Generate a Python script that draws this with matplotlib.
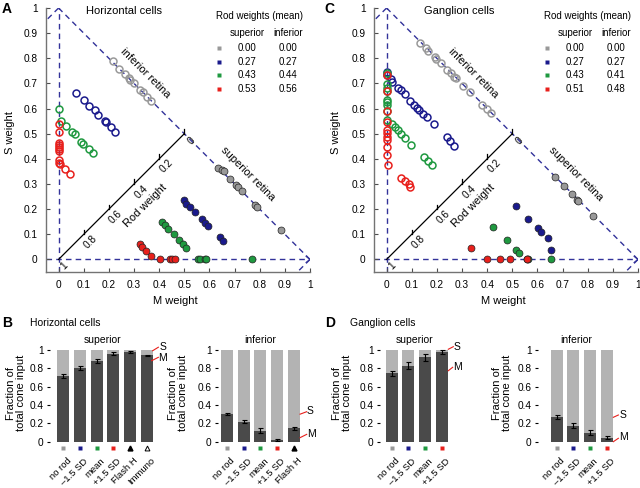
import matplotlib
matplotlib.use("Agg")
import matplotlib.pyplot as plt
import numpy as np

plt.rcParams['font.family'] = ['Liberation Sans', 'DejaVu Sans']

# ---------------- data: panel A (horizontal cells) ----------------
A_inf_gray_m = [0.216, 0.242, 0.263, 0.279, 0.286, 0.299, 0.325, 0.335, 0.352, 0.368]
A_inf_gray_s = [0.789, 0.758, 0.737, 0.721, 0.714, 0.701, 0.675, 0.665, 0.648, 0.632]
A_inf_blue_m = [0.071, 0.100, 0.122, 0.143, 0.156, 0.183, 0.190, 0.210, 0.226]
A_inf_blue_s = [0.660, 0.636, 0.612, 0.594, 0.576, 0.551, 0.545, 0.525, 0.506]
A_inf_green_m = [0.001, 0.008, 0.028, 0.052, 0.065, 0.091, 0.098, 0.120, 0.136]
A_inf_green_s = [0.598, 0.551, 0.530, 0.507, 0.497, 0.467, 0.461, 0.441, 0.425]
A_inf_red_m = [0, 0, 0, 0, 0, 0, 0, 0, 0.003, 0.007, 0.024, 0.044]
A_inf_red_s = [0.538, 0.505, 0.465, 0.457, 0.447, 0.438, 0.430, 0.394, 0.385, 0.378, 0.361, 0.341]

A_sup_gray_m = [0.636, 0.650, 0.656, 0.680, 0.706, 0.712, 0.729, 0.782, 0.791, 0.885]
A_sup_gray_s = [0.364, 0.355, 0.351, 0.319, 0.298, 0.290, 0.271, 0.218, 0.208, 0.116]
A_sup_blue_m = [0.497, 0.508, 0.524, 0.544, 0.570, 0.583, 0.596, 0.643, 0.654]
A_sup_blue_s = [0.235, 0.222, 0.208, 0.188, 0.162, 0.146, 0.133, 0.089, 0.073]
A_sup_green_m = [0.411, 0.422, 0.434, 0.458, 0.480, 0.495, 0.507, 0.554, 0.563, 0.581, 0.587, 0.771]
A_sup_green_s = [0.149, 0.135, 0.121, 0.102, 0.076, 0.062, 0.047, 0, 0, 0, 0, 0]
A_sup_red_m = [0.323, 0.332, 0.349, 0.369, 0.405, 0.442, 0.451, 0.462]
A_sup_red_s = [0.060, 0.049, 0.033, 0.015, 0, 0, 0, 0]

# ---------------- data: panel C (ganglion cells) ----------------
C_inf_gray_m = [0.133, 0.155, 0.165, 0.191, 0.198, 0.215, 0.241, 0.255, 0.268, 0.275, 0.304, 0.331, 0.381, 0.398, 0.414]
C_inf_gray_s = [0.862, 0.840, 0.830, 0.804, 0.797, 0.780, 0.754, 0.740, 0.727, 0.720, 0.691, 0.664, 0.614, 0.597, 0.581]
C_inf_blue_m = [0, 0, 0.016, 0.022, 0.046, 0.056, 0.072, 0.093, 0.109, 0.122, 0.129, 0.145, 0.162, 0.188, 0.239, 0.252, 0.268]
C_inf_blue_s = [0.745, 0.732, 0.716, 0.705, 0.681, 0.672, 0.659, 0.632, 0.616, 0.603, 0.595, 0.579, 0.566, 0.537, 0.486, 0.473, 0.453]
C_inf_green_m = [0, 0, 0, 0, 0, 0, 0, 0, 0.003, 0.020, 0.033, 0.046, 0.056, 0.073, 0.096, 0.149, 0.166, 0.182]
C_inf_green_s = [0.741, 0.699, 0.683, 0.669, 0.635, 0.625, 0.616, 0.592, 0.555, 0.537, 0.526, 0.513, 0.499, 0.484, 0.457, 0.406, 0.390, 0.376]
C_inf_red_m = [0, 0, 0, 0, 0, 0, 0, 0, 0, 0, 0.006, 0.056, 0.073, 0.089, 0.092]
C_inf_red_s = [0.733, 0.669, 0.592, 0.545, 0.513, 0.501, 0.486, 0.475, 0.448, 0.417, 0.376, 0.323, 0.310, 0.300, 0.290]

C_sup_gray_m = [0.671, 0.704, 0.737, 0.759, 0.763, 0.823]
C_sup_gray_s = [0.327, 0.294, 0.261, 0.237, 0.234, 0.171]
C_sup_blue_m = [0.514, 0.564, 0.602, 0.616, 0.644, 0.653]
C_sup_blue_s = [0.214, 0.161, 0.124, 0.110, 0.084, 0.037]
C_sup_green_m = [0.424, 0.479, 0.515, 0.528, 0.559, 0.561, 0.652]
C_sup_green_s = [0.130, 0.077, 0.037, 0.027, 0, 0, 0]
C_sup_red_m = [0.336, 0.399, 0.451, 0.492, 0.557]
C_sup_red_s = [0.044, 0, 0, 0, 0]

# legend values
A_leg_sup = ["0.00", "0.27", "0.43", "0.53"]
A_leg_inf = ["0.00", "0.27", "0.44", "0.56"]
C_leg_sup = ["0.00", "0.27", "0.43", "0.51"]
C_leg_inf = ["0.00", "0.27", "0.41", "0.48"]

# ---------------- data: bar panels ----------------
B_sup_labels = ["no rod", "\u20131.5 SD", "mean", "+1.5 SD", "Flash H", "Immuno"]
B_sup_m = [0.72, 0.80, 0.88, 0.96, 0.975, 0.94]
B_sup_err = [0.02, 0.02, 0.025, 0.02, 0.01, 0.01]
B_inf_labels = ["no rod", "\u20131.5 SD", "mean", "+1.5 SD", "Flash H"]
B_inf_m = [0.30, 0.22, 0.12, 0.02, 0.145]
B_inf_err = [0.012, 0.02, 0.025, 0.012, 0.015]
D_labels = ["no rod", "\u20131.5 SD", "mean", "+1.5 SD"]
D_sup_m = [0.745, 0.83, 0.92, 0.98]
D_sup_err = [0.025, 0.035, 0.035, 0.02]
D_inf_m = [0.27, 0.175, 0.10, 0.045]
D_inf_err = [0.02, 0.025, 0.025, 0.015]

GRAY = '#999999'
BLUE = '#1a1a8c'
GREEN = '#1f9940'
RED = '#e8201c'
DASH = '#33339a'
cols = [GRAY, BLUE, GREEN, RED]

W, H = 640, 488
fig = plt.figure(figsize=(6.4, 4.88), dpi=100)


def fx(px):
    return px / W


def fy(py):
    return 1 - py / H


def triangle_panel(rect, inf, sup, legsup, leginf, title, title_x):
    ax = fig.add_axes(rect)
    ax.set_xlim(-0.05, 1.0)
    ax.set_ylim(-0.05, 1.0)
    for s in ['top', 'right']:
        ax.spines[s].set_visible(False)
    for s in ['left', 'bottom']:
        ax.spines[s].set_color('0.45')
        ax.spines[s].set_linewidth(1.0)
    ticks = np.round(np.arange(0, 1.01, 0.1), 1)
    lab = ['0'] + ['%.1f' % t for t in ticks[1:-1]] + ['1']
    ax.set_xticks(ticks)
    ax.set_xticklabels(lab)
    ax.set_yticks(ticks)
    ax.set_yticklabels(lab)
    ax.tick_params(direction='in', length=3, width=0.8, color='0.3', labelsize=7.3, pad=6)
    # dashed triangle
    dk = dict(color=DASH, lw=1.0, ls=(0, (4, 3)), zorder=1)
    ax.plot([0, 0], [-0.05, 1], **dk)
    ax.plot([-0.05, 1], [0, 0], **dk)
    ax.plot([0, 1], [1, 0], **dk)
    ax.plot([0, -0.05], [1, 0.95], **dk)
    ax.plot([1, 0.95], [0, -0.05], **dk)
    ax.plot([0.985, 1.0, 0.985], [0.012, 0, -0.012], color=DASH, lw=0.9, zorder=1)
    # rod weight axis
    ax.plot([0, 0.5], [0, 0.5], color='k', lw=0.9, zorder=1)
    for r, l in zip([0, 0.2, 0.4, 0.6, 0.8], ['0', '0.2', '0.4', '0.6', '0.8']):
        p = 0.5 * (1 - r)
        ax.plot([p, p], [p, p + 0.018], color='k', lw=0.9, zorder=1)
        ax.text(p + 0.028, p - 0.03, l, rotation=45, fontsize=7.3, ha='center', va='center')
    ax.text(0.022, -0.025, '1', rotation=45, fontsize=7.3, ha='center', va='center')
    ax.text(0.345, 0.215, 'Rod weight', rotation=45, fontsize=8, ha='center', va='center')
    ax.text(0.345, 0.74, 'inferior retina', rotation=-45, fontsize=8, ha='center', va='center')
    ax.text(0.755, 0.34, 'superior retina', rotation=-45, fontsize=8, ha='center', va='center')
    # data
    for (m, s), c in zip(inf, cols):
        ax.plot(m, s, 'o', ms=5, mfc='none', mec=c, mew=1.1, zorder=3, clip_on=False)
    for (m, s), c in zip(sup, cols):
        ax.plot(m, s, 'o', ms=5, mfc=c, mec='#222222', mew=0.5, zorder=3, clip_on=False)
    # title + legend
    ax.text(title_x, 0.99, title, fontsize=8, ha='center', va='center')
    ax.text(0.80, 0.968, 'Rod weights (mean)', fontsize=7, ha='center', va='center')
    ax.text(0.75, 0.90, 'superior', fontsize=7, ha='center', va='center')
    ax.text(0.912, 0.90, 'inferior', fontsize=7, ha='center', va='center')
    for i, c in enumerate(cols):
        yy = 0.841 - i * 0.0545
        ax.plot([0.637], [yy], 's', ms=3.5, color=c, mec='none')
        ax.text(0.75, yy, legsup[i], fontsize=7, ha='center', va='center')
        ax.text(0.912, yy, leginf[i], fontsize=7, ha='center', va='center')
    return ax


triangle_panel([fx(46), fy(272), 264 / W, 264 / H],
               [(A_inf_gray_m, A_inf_gray_s), (A_inf_blue_m, A_inf_blue_s),
                (A_inf_green_m, A_inf_green_s), (A_inf_red_m, A_inf_red_s)],
               [(A_sup_gray_m, A_sup_gray_s), (A_sup_blue_m, A_sup_blue_s),
                (A_sup_green_m, A_sup_green_s), (A_sup_red_m, A_sup_red_s)],
               A_leg_sup, A_leg_inf, 'Horizontal cells', 0.262)
triangle_panel([fx(374), fy(272), 264 / W, 264 / H],
               [(C_inf_gray_m, C_inf_gray_s), (C_inf_blue_m, C_inf_blue_s),
                (C_inf_green_m, C_inf_green_s), (C_inf_red_m, C_inf_red_s)],
               [(C_sup_gray_m, C_sup_gray_s), (C_sup_blue_m, C_sup_blue_s),
                (C_sup_green_m, C_sup_green_s), (C_sup_red_m, C_sup_red_s)],
               C_leg_sup, C_leg_inf, 'Ganglion cells', 0.288)

# axis labels for triangle panels
for xs, xm in [(10, 175.7), (336, 503.3)]:
    fig.text(fx(xs), fy(133), 'S weight', rotation=90, fontsize=8, ha='center', va='center')
    fig.text(fx(xm), fy(301), 'M weight', fontsize=8, ha='center', va='center')

fig.text(fx(2), fy(9), 'A', fontsize=10, fontweight='bold', ha='left', va='center')
fig.text(fx(324), fy(9), 'C', fontsize=10, fontweight='bold', ha='left', va='center')


# ---------------- bar panels ----------------
def bar_panel(rect, xlim, mvals, errs, labels, markers, mcols, title, s_line, m_line, s_pos, m_pos):
    ax = fig.add_axes(rect)
    x = np.arange(len(mvals))
    ax.bar(x, np.ones(len(mvals)), width=0.72, color='#b3b3b3', zorder=1)
    ax.bar(x, mvals, width=0.72, color='#4a4a4a', zorder=2)
    ax.errorbar(x, mvals, yerr=errs, fmt='none', ecolor='k', elinewidth=0.8, capsize=1.8,
                capthick=0.8, zorder=3)
    ax.set_xlim(*xlim)
    ax.set_ylim(0, 1.05)
    for s in ['top', 'right', 'bottom', 'left']:
        ax.spines[s].set_visible(False)
    ax.set_xticks([])
    ax.set_yticks([0, 0.2, 0.4, 0.6, 0.8, 1])
    ax.set_yticklabels(['0', '0.2', '0.4', '0.6', '0.8', '1'])
    ax.tick_params(axis='y', direction='out', length=2.5, width=0.8, labelsize=7.3, pad=2)
    for i in x:
        if markers[i] == 's':
            ax.plot([i], [-0.07], 's', ms=3.5, color=mcols[i], mec='none', clip_on=False)
        elif markers[i] == '^':
            ax.plot([i], [-0.07], '^', ms=3.5, color='k', clip_on=False)
        else:
            ax.plot([i], [-0.07], '^', ms=3.5, mfc='white', mec='k', mew=0.7, clip_on=False)
        ax.text(i + 0.2, -0.16, labels[i], rotation=45, rotation_mode='anchor',
                ha='right', va='top', fontsize=6.8)
    ax.set_title(title, fontsize=7.5, pad=2)
    ax.plot(s_line[0], s_line[1], color=RED, lw=0.8, clip_on=False)
    ax.plot(m_line[0], m_line[1], color=RED, lw=0.8, clip_on=False)
    ax.text(s_pos[0], s_pos[1], 'S', fontsize=7.5, ha='center', va='center')
    ax.text(m_pos[0], m_pos[1], 'M', fontsize=7.5, ha='center', va='center')
    return ax


ybot = fy(441.7)
hgt = (441.7 - 345.4) / H
b_cols = [GRAY, BLUE, GREEN, RED, 'k', 'k']
bar_panel([fx(50), ybot, (156 - 50) / W, hgt], (-0.8, 5.55), B_sup_m, B_sup_err, B_sup_labels,
          ['s', 's', 's', 's', '^', 'o'], b_cols, 'superior',
          ([5.35, 5.69], [0.992, 1.03]), ([5.29, 5.69], [0.883, 0.92]), (5.95, 1.03), (5.93, 0.91))
bar_panel([fx(218), ybot, (302.7 - 218) / W, hgt], (-0.55, 4.55), B_inf_m, B_inf_err, B_inf_labels,
          ['s', 's', 's', 's', '^'], b_cols, 'inferior',
          ([4.39, 4.79], [0.30, 0.327]), ([4.39, 4.79], [0.044, 0.08]), (5.0, 0.335), (5.05, 0.084))
bar_panel([fx(380), ybot, (449.3 - 380) / W, hgt], (-0.7, 3.45), D_sup_m, D_sup_err, D_labels,
          ['s', 's', 's', 's'], b_cols, 'superior',
          ([3.39, 3.69], [1.008, 1.036]), ([3.39, 3.65], [0.774, 0.811]), (3.9, 1.036), (3.95, 0.81))
bar_panel([fx(538), ybot, (613.5 - 538) / W, hgt], (-1.12, 3.4), D_inf_m, D_inf_err, D_labels,
          ['s', 's', 's', 's'], b_cols, 'inferior',
          ([3.39, 3.69], [0.266, 0.291]), ([3.39, 3.69], [0.0, 0.037]), (3.95, 0.29), (4.0, 0.048))

for xl in [16, 178, 342, 502]:
    fig.text(fx(xl), fy(393), 'Fraction of\ntotal cone input', rotation=90, fontsize=8,
             ha='center', va='center', multialignment='center', linespacing=1.05)

fig.text(fx(2), fy(323), 'B', fontsize=10, fontweight='bold', ha='left', va='center')
fig.text(fx(30), fy(323), 'Horizontal cells', fontsize=7.5, ha='left', va='center')
fig.text(fx(325), fy(323), 'D', fontsize=10, fontweight='bold', ha='left', va='center')
fig.text(fx(350), fy(323), 'Ganglion cells', fontsize=7.5, ha='left', va='center')

fig.savefig('out.png', dpi=100)
